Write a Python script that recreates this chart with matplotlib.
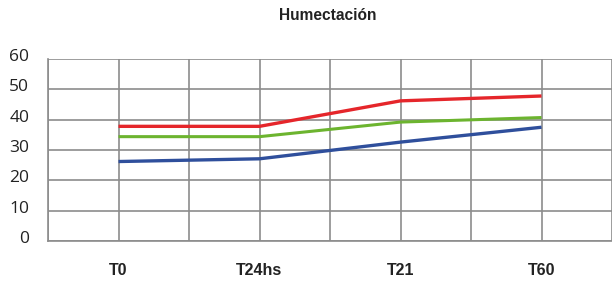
import matplotlib
matplotlib.use("Agg")
import matplotlib.pyplot as plt
import matplotlib.transforms as mtransforms

# datos
categorias = ["T0", "T24hs", "T21", "T60"]
serie_roja = [37.8, 37.8, 46.2, 47.8]
serie_verde = [34.4, 34.4, 39.2, 40.7]
serie_azul = [26.2, 27.1, 32.6, 37.5]
yticks = [0, 10, 20, 30, 40, 50, 60]

fig = plt.figure(figsize=(6.12, 2.81), dpi=100)
ax = fig.add_axes([48 / 612, 40 / 281, 1 - 48 / 612, 182 / 281])

x = range(len(categorias))
ax.plot(x, serie_azul, color="#2f4f9c", lw=2.4, solid_capstyle="butt", zorder=3)
ax.plot(x, serie_verde, color="#6cb42f", lw=2.2, solid_capstyle="butt", zorder=3)
ax.plot(x, serie_roja, color="#e5262b", lw=2.4, solid_capstyle="butt", zorder=3)

ax.set_xlim(-0.5, 3.457)
ax.set_ylim(0, 60)
ax.set_xticks(list(x))
ax.set_xticks([i - 0.5 for i in range(5)], minor=True)
ax.set_xticklabels(categorias, fontfamily="Liberation Sans", fontweight="bold",
                   fontsize=11.5, color="#222222")
ax.set_yticks(yticks)
ax.set_yticklabels([str(v) for v in yticks], fontfamily="Open Sans",
                   fontsize=12.5, color="#222222")
ax.tick_params(axis="both", which="both", length=0)
ax.tick_params(axis="x", pad=16)
ax.tick_params(axis="y", pad=13.5)

# las etiquetas del eje y estan un poco por encima de la linea
offset = mtransforms.ScaledTranslation(0, 4 / 100, fig.dpi_scale_trans)
for lab in ax.get_yticklabels():
    lab.set_transform(lab.get_transform() + offset)

ax.grid(True, which="both", color="#8c8c8c", lw=1.2)
ax.set_axisbelow(True)
for s in ["top", "right"]:
    ax.spines[s].set_visible(False)
for s in ["left", "bottom"]:
    ax.spines[s].set_color("#8c8c8c")
    ax.spines[s].set_linewidth(1.2)

fig.text(0.535, 1 - 16 / 281, "Humectación", ha="center", va="center",
         fontfamily="Liberation Sans", fontweight="bold", fontsize=11.2,
         color="#222222")

fig.savefig("out.png", dpi=100)
